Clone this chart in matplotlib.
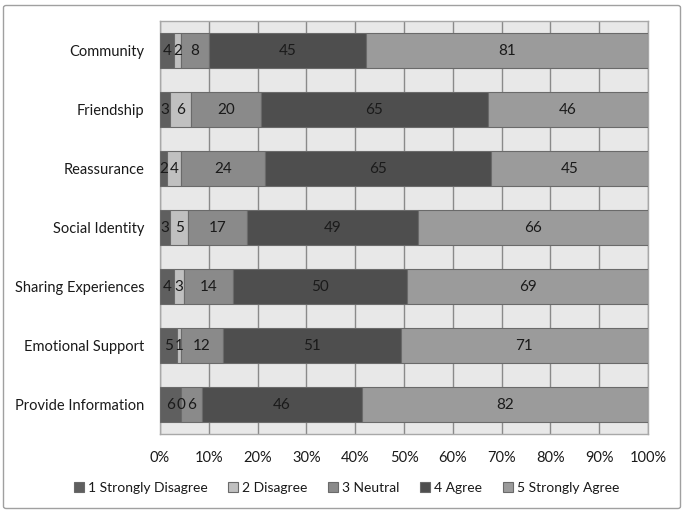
import matplotlib
matplotlib.use("Agg")
import matplotlib.pyplot as plt
from matplotlib.patches import FancyBboxPatch
import numpy as np

categories = ["Community", "Friendship", "Reassurance", "Social Identity",
              "Sharing Experiences", "Emotional Support", "Provide Information"]
series_names = ["1 Strongly Disagree", "2 Disagree", "3 Neutral", "4 Agree", "5 Strongly Agree"]
strongly_disagree = [4, 3, 2, 3, 4, 5, 6]
disagree = [2, 6, 4, 5, 3, 1, 0]
neutral = [8, 20, 24, 17, 14, 12, 6]
agree = [45, 65, 65, 49, 50, 51, 46]
strongly_agree = [81, 46, 45, 66, 69, 71, 82]
colors = ["#5f5f5f", "#c0c0c0", "#8a8a8a", "#4e4e4e", "#9b9b9b"]
xtick_labels = ["0%", "10%", "20%", "30%", "40%", "50%", "60%", "70%", "80%", "90%", "100%"]

plt.rcParams['font.family'] = ['Lato', 'DejaVu Sans']

data = np.array([strongly_disagree, disagree, neutral, agree, strongly_agree], dtype=float)
totals = data.sum(axis=0)
pct = data / totals

fig = plt.figure(figsize=(6.85, 5.14), dpi=100)
# outer chart border
border = FancyBboxPatch((3.5/685, 5.5/514), 677/685, 503/514,
                        boxstyle="round,pad=0,rounding_size=0.004",
                        transform=fig.transFigure, facecolor="none",
                        edgecolor="#a0a0a0", linewidth=1.0, zorder=-1)
fig.patches.append(border)

ax = fig.add_axes([160/685, 1 - 434/514, 488/685, 413/514])
ax.set_facecolor("#e8e8e8")
y = np.arange(len(categories))
left = np.zeros(len(categories))
for i in range(5):
    ax.barh(y, pct[i], left=left, height=0.58, color=colors[i],
            edgecolor="#6a6a6a", linewidth=0.8, label=series_names[i], zorder=3)
    for j in range(len(categories)):
        ax.text(left[j] + pct[i][j] / 2, y[j], f"{int(data[i][j])}",
                ha="center", va="center", fontsize=11, color="#1a1a1a", zorder=4)
    left += pct[i]

ax.set_xlim(0, 1)
ax.set_ylim(len(categories) - 0.5, -0.5)
ax.set_yticks(y)
ax.set_yticklabels(categories, fontsize=10.5, color="#1a1a1a")
ax.set_xticks(np.linspace(0, 1, 11))
ax.set_xticklabels(xtick_labels, fontsize=10.5, color="#1a1a1a")
ax.tick_params(axis="y", length=0, pad=11)
ax.tick_params(axis="x", length=0, pad=12)
ax.grid(axis="x", color="#8a8a8a", linewidth=1.0, zorder=1)
ax.set_axisbelow(True)
for s in ax.spines.values():
    s.set_color("#a8a8a8")
    s.set_linewidth(1.0)

handles, labels = ax.get_legend_handles_labels()
leg = fig.legend(handles, labels, loc="center", bbox_to_anchor=(0.506, 1 - 488/514),
                 ncol=5, frameon=False, fontsize=10, handlelength=0.7,
                 handleheight=0.7, handletextpad=0.3, columnspacing=1.5)
for t in leg.get_texts():
    t.set_color("#1a1a1a")

fig.savefig("out.png", dpi=100)
